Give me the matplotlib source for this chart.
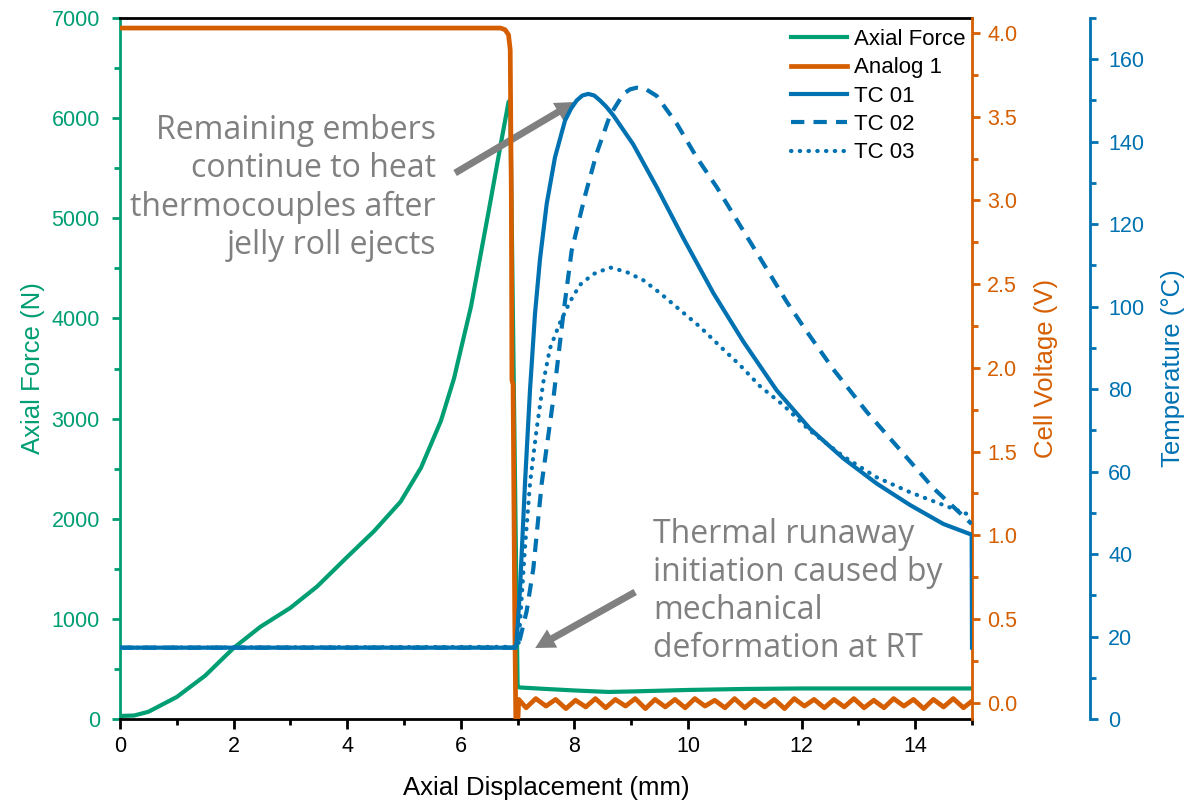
import matplotlib
matplotlib.use("Agg")
import matplotlib.pyplot as plt
from matplotlib.ticker import MultipleLocator, FormatStrFormatter

plt.rcParams["font.family"] = ["Liberation Sans", "DejaVu Sans"]

GREEN = "#009E73"
ORANGE = "#D55E00"
BLUE = "#0072B2"
GRAY = "#808080"

# Axial force (N) vs displacement (mm)
force_x = [0.0, 0.25, 0.5, 1.0, 1.5, 2.0, 2.47, 3.0, 3.47, 4.0, 4.47, 4.94, 5.3,
           5.65, 5.88, 6.18, 6.5, 6.7, 6.84, 6.87, 7.0, 7.03, 7.5, 8.0, 8.6,
           9.0, 10.0, 11.0, 12.0, 13.0, 14.0, 15.0]
force_n = [30, 35, 72, 220, 433, 709, 920, 1110, 1323, 1618, 1874, 2170, 2510,
           2977, 3400, 4120, 5100, 5730, 6160, 6180, 330, 315, 300, 285, 270,
           275, 290, 300, 305, 305, 305, 305]

# Cell voltage (V): plateau and collapse
volt_drop_x = [0.0, 6.70, 6.78, 6.84, 6.87, 6.89, 6.90, 6.92, 6.95, 6.97, 7.00]
volt_drop_v = [4.03, 4.03, 4.02, 3.99, 3.90, 3.00, 1.93, 1.90, 0.50, -0.15, -0.15]

# Cell voltage (V): residual ripple after collapse
volt_tail_x = [7.02, 7.15, 7.32, 7.50, 7.67, 7.85, 8.02, 8.20, 8.37, 8.55,
               8.72, 8.90, 9.07, 9.25, 9.42, 9.60, 9.77, 9.95, 10.12, 10.30,
               10.47, 10.65, 10.82, 11.00, 11.17, 11.35, 11.52, 11.70, 11.87, 12.05,
               12.22, 12.40, 12.57, 12.75, 12.92, 13.10, 13.27, 13.45, 13.62, 13.80,
               13.97, 14.15, 14.32, 14.50, 14.67, 14.85, 15.00]
volt_tail_v = [0.02, -0.03, 0.025, -0.02, 0.02, -0.035, 0.015, -0.025, 0.025, -0.03,
               0.02, -0.02, 0.025, -0.035, 0.02, -0.025, 0.02, -0.03, 0.025, -0.02,
               0.015, -0.03, 0.025, -0.03, 0.02, -0.025, 0.02, -0.035, 0.025, -0.02,
               0.02, -0.03, 0.02, -0.025, 0.025, -0.03, 0.015, -0.03, 0.025, -0.02,
               0.02, -0.035, 0.02, -0.025, 0.025, -0.03, 0.01]

# Thermocouple temperatures (deg C)
tc01_x = [0.0, 6.97, 6.984, 7.042, 7.130, 7.218, 7.306, 7.394, 7.512, 7.658, 7.834,
          7.94, 8.040, 8.14, 8.245, 8.35, 8.451, 8.56, 8.685, 9.038, 9.449, 9.918,
          10.446, 10.975, 11.561, 12.148, 12.735, 13.322, 13.908, 14.495, 14.994, 15.0]
tc01_t = [17.3, 17.3, 19.0, 31.4, 57.1, 79.7, 98.2, 111.5, 124.9, 136.2, 145.1,
          148.0, 150.0, 151.2, 151.6, 151.2, 150.0, 148.5, 146.4, 139.3, 129.0, 116.6,
          103.3, 91.5, 79.7, 70.4, 63.2, 57.1, 51.9, 47.3, 44.7, 17.3]

tc02_x = [0.0, 7.0, 7.054, 7.160, 7.277, 7.424, 7.629, 7.805, 7.952, 8.187, 8.392,
          8.627, 8.862, 8.98, 9.096, 9.25, 9.449, 9.801, 10.153, 10.505, 10.916,
          11.326, 11.737, 12.089, 12.559, 13.146, 13.732, 14.319, 14.994]
tc02_t = [17.3, 17.3, 20.1, 26.2, 36.5, 57.1, 77.6, 98.2, 113.6, 126.9, 137.2,
          146.4, 151.6, 152.7, 153.1, 152.8, 151.1, 144.4, 136.2, 129.0, 119.7,
          110.5, 101.2, 94.0, 84.8, 74.5, 65.3, 56.0, 47.3]

tc03_x = [0.0, 7.013, 7.042, 7.130, 7.218, 7.336, 7.453, 7.570, 7.746, 7.922, 8.099,
          8.333, 8.627, 8.920, 9.214, 9.507, 9.859, 10.211, 10.563, 10.916, 11.268,
          11.679, 12.148, 12.735, 13.322, 13.908, 14.495, 14.994]
tc03_t = [17.3, 17.5, 23.2, 41.6, 57.1, 70.4, 81.7, 89.9, 96.1, 101.2, 105.3,
          107.9, 109.5, 108.4, 106.4, 103.3, 99.2, 95.1, 90.4, 85.8, 80.7,
          76.1, 69.9, 63.7, 58.6, 55.0, 51.9, 49.3]

fig = plt.figure(figsize=(11.96, 8.0), dpi=100)
ax = fig.add_axes([120 / 1196, 81 / 800, 852 / 1196, 701 / 800])
ax2 = ax.twinx()
ax3 = ax.twinx()

SPINE_W = 2.0
TICK_FS = 15.5
LABEL_FS = 18.5

# --- force axis (left) ---
l_force, = ax.plot(force_x, force_n, color=GREEN, lw=3.0, label="Axial Force",
                   solid_joinstyle="round")
ax.set_xlim(0, 15)
ax.set_ylim(0, 7000)
ax.xaxis.set_major_locator(MultipleLocator(2))
ax.xaxis.set_minor_locator(MultipleLocator(1))
ax.yaxis.set_major_locator(MultipleLocator(1000))
ax.yaxis.set_minor_locator(MultipleLocator(500))
ax.spines["left"].set_color(GREEN)
ax.spines["left"].set_linewidth(SPINE_W)
ax.spines["bottom"].set_linewidth(SPINE_W)
ax.spines["top"].set_linewidth(SPINE_W)
ax.spines["right"].set_visible(False)
ax.tick_params(axis="y", which="both", colors=GREEN, direction="out", width=SPINE_W,
               labelsize=TICK_FS, pad=8.5)
ax.tick_params(axis="y", which="major", length=6)
ax.tick_params(axis="y", which="minor", length=4)
ax.tick_params(axis="x", which="both", direction="out", width=SPINE_W, labelsize=TICK_FS,
               top=False, pad=5)
ax.tick_params(axis="x", which="major", length=7)
ax.tick_params(axis="x", which="minor", length=4)
ax.set_xlabel("Axial Displacement (mm)", fontsize=LABEL_FS, labelpad=14)
ax.set_ylabel("Axial Force (N)", fontsize=LABEL_FS, color=GREEN, labelpad=5)

# --- voltage axis (first right) ---
l_volt, = ax2.plot(volt_drop_x + volt_tail_x, volt_drop_v + volt_tail_v, color=ORANGE,
                   lw=3.4, label="Analog 1", solid_joinstyle="round")
ax2.set_ylim(-0.097, 4.09)
ax2.yaxis.set_major_locator(MultipleLocator(0.5))
ax2.yaxis.set_minor_locator(MultipleLocator(0.25))
ax2.yaxis.set_major_formatter(FormatStrFormatter("%.1f"))
for s in ("left", "top", "bottom"):
    ax2.spines[s].set_visible(False)
ax2.spines["right"].set_color(ORANGE)
ax2.spines["right"].set_linewidth(SPINE_W)
ax2.tick_params(axis="y", which="both", colors=ORANGE, direction="out", width=SPINE_W,
                labelsize=TICK_FS, pad=5)
ax2.tick_params(axis="y", which="major", length=6)
ax2.tick_params(axis="y", which="minor", length=4)
ax2.set_ylabel("Cell Voltage (V)", fontsize=LABEL_FS, color=ORANGE, labelpad=12)

# --- temperature axis (second right, offset) ---
l_tc1, = ax3.plot(tc01_x, tc01_t, color=BLUE, lw=3.0, label="TC 01")
l_tc2, = ax3.plot(tc02_x, tc02_t, color=BLUE, lw=3.0, label="TC 02",
                  linestyle=(0, (3.2, 2.2)))
l_tc3, = ax3.plot(tc03_x, tc03_t, color=BLUE, lw=3.0, label="TC 03",
                  linestyle=(0, (0.1, 2.0)), dash_capstyle="round")
ax3.set_ylim(0, 170)
ax3.yaxis.set_major_locator(MultipleLocator(20))
ax3.yaxis.set_minor_locator(MultipleLocator(10))
for s in ("left", "top", "bottom"):
    ax3.spines[s].set_visible(False)
ax3.spines["right"].set_position(("axes", (1090 - 120) / 852))
ax3.spines["right"].set_color(BLUE)
ax3.spines["right"].set_linewidth(SPINE_W)
ax3.tick_params(axis="y", which="both", colors=BLUE, direction="out", width=SPINE_W,
                labelsize=TICK_FS, pad=7)
ax3.tick_params(axis="y", which="major", length=6)
ax3.tick_params(axis="y", which="minor", length=4)
ax3.set_ylabel("Temperature (°C)", fontsize=LABEL_FS, color=BLUE, labelpad=12)

ax3.legend(handles=[l_force, l_volt, l_tc1, l_tc2, l_tc3], loc="upper right",
           bbox_to_anchor=(1.005, 1.0), frameon=False, fontsize=16,
           handlelength=2.5, handletextpad=0.3, labelspacing=0.33, borderaxespad=0.1)

# --- annotations ---
note_font = dict(family=["Open Sans", "DejaVu Sans"], fontsize=23, color=GRAY,
                 linespacing=1.2)
ax.text(5.56, 5302, "Remaining embers\ncontinue to heat\nthermocouples after\njelly roll ejects",
        ha="right", va="center", multialignment="right", **note_font)
ax.text(9.38, 1278, "Thermal runaway\ninitiation caused by\nmechanical\ndeformation at RT",
        ha="left", va="center", multialignment="left", **note_font)

arrow = dict(facecolor=GRAY, edgecolor="none", width=5.0, headwidth=15, headlength=14,
             shrink=0.0)
ax.annotate("", xy=(8.01, 6161), xytext=(5.90, 5452), arrowprops=arrow, zorder=10)
ax.annotate("", xy=(7.31, 709), xytext=(9.07, 1268), arrowprops=arrow, zorder=10)

fig.savefig("out.png", dpi=100)
